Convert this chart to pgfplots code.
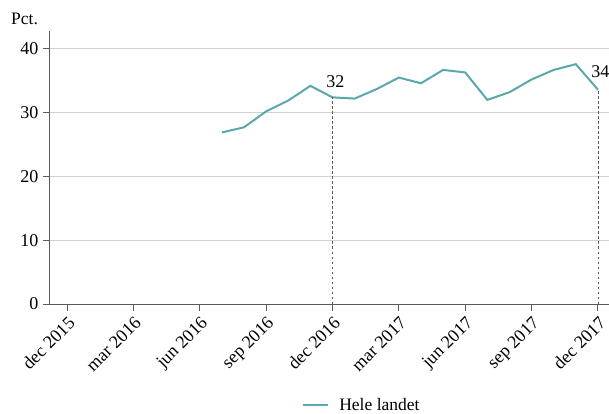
\documentclass[border=0pt]{standalone}
\usepackage{fontspec}
\setmainfont{Liberation Serif}
\usepackage{pgfplots}
\pgfplotsset{compat=1.18}
\definecolor{teal1}{RGB}{91,167,171}
\definecolor{axgray}{RGB}{90,90,90}
\definecolor{gridgray}{RGB}{210,210,210}
\begin{document}
\begin{tikzpicture}[font=\fontsize{18}{21}\selectfont]
\useasboundingbox (-50pt,-110pt) rectangle (559pt,304pt);
\begin{axis}[
  at={(0pt,0pt)}, anchor=south west,
  scale only axis,
  width=559pt, height=273pt,
  xmin=-0.77, xmax=24.5,
  ymin=0, ymax=42.8,
  axis x line*=bottom, axis y line*=left,
  axis line style={axgray, line width=1pt, -},
  xtick={0,3,6,9,12,15,18,21,24},
  xticklabels={dec 2015,mar 2016,jun 2016,sep 2016,dec 2016,mar 2017,jun 2017,sep 2017,dec 2017},
  tick label style={font=\fontsize{18}{21}\selectfont},
  xticklabel style={rotate=45, anchor=north east, inner sep=3pt},
  yticklabel style={inner sep=4.5pt},
  ytick={0,10,20,30,40},
  ymajorgrids,
  grid style={gridgray, line width=0.8pt},
  tick align=outside,
  major tick length=7pt,
  tick style={axgray, line width=1pt},
  /pgf/number format/assume math mode=true,
  legend style={at={(0.558,-0.37)}, anchor=center, draw=none, fill=none, legend cell align=left, column sep=8pt, font=\fontsize{17.5}{20}\selectfont},
  legend image code/.code={\draw[#1] (0pt,0pt) -- (25pt,0pt);},
  clip=false,
]
\addplot[teal1, line width=2pt] coordinates {
(7,26.9) (8,27.7) (9,30.2) (10,31.9) (11,34.2) (12,32.4) (13,32.2) (14,33.7)
(15,35.5) (16,34.6) (17,36.7) (18,36.3) (19,32.0) (20,33.2) (21,35.2) (22,36.7)
(23,37.6) (24,33.6)
};
\addlegendentry{Hele landet}
\addplot[axgray, line width=0.9pt, dash pattern=on 2.5pt off 2.5pt, forget plot] coordinates {(12,0) (12,32.4)} node[pos=1, above, text=black, yshift=6pt, xshift=3pt] {32};
\addplot[axgray, line width=0.9pt, dash pattern=on 2.5pt off 2.5pt, forget plot] coordinates {(24,0) (24,33.6)} node[pos=1, above, text=black, yshift=8pt, xshift=2.5pt] {34};
\node[anchor=base west, inner sep=0pt, text=black, font=\fontsize{17.5}{20}\selectfont] at ([xshift=-39pt, yshift=6pt]rel axis cs:0,1) {Pct.};
\end{axis}
\end{tikzpicture}
\end{document}
